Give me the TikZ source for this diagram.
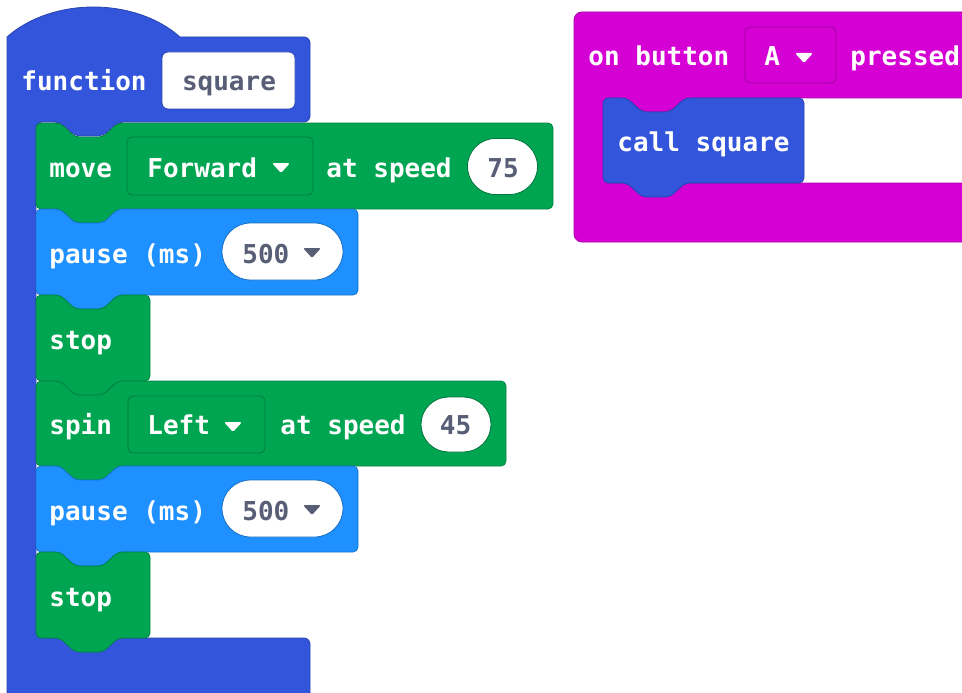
\documentclass[tikz,border=0pt]{standalone}
\usepackage{fontspec}
\newfontfamily\blockfont{DejaVu Sans Mono}
\usetikzlibrary{shapes.misc}

\definecolor{fnblue}{RGB}{51,85,219}
\definecolor{pauseblue}{RGB}{30,144,255}
\definecolor{motorgreen}{RGB}{0,165,82}
\definecolor{eventpink}{RGB}{212,0,212}
\definecolor{valuegray}{RGB}{87,94,117}

% statement block with notch on top and tab below
\newcommand{\stackblock}[5]{%
    \filldraw[#1] (#2,#3) -- ({#2+24},#3) -- ({#2+39},{#3+14}) -- ({#2+67},{#3+14})
        -- ({#2+82},#3) -- (#4,#3) -- (#4,#5) -- ({#2+82},#5) -- ({#2+67},{#5+14})
        -- ({#2+39},{#5+14}) -- ({#2+24},#5) -- (#2,#5) -- cycle;}

\begin{document}
\begin{tikzpicture}[x = 1pt, y = -1pt, line width = 0.8pt,
    every node/.style = {inner sep = 0pt, text = white,
        font = \blockfont\bfseries\fontsize{26}{30}\selectfont},
    word/.style = {anchor = base west},
    valtext/.style = {anchor = base, text = valuegray},
    greenblock/.style = {fill = motorgreen, draw = motorgreen!80!black, rounded corners = 5pt},
    pauseblock/.style = {fill = pauseblue, draw = pauseblue!80!black, rounded corners = 5pt},
    callblock/.style = {fill = fnblue, draw = fnblue!80!black, rounded corners = 5pt},
    dropdown/.style = {rectangle, rounded corners = 5pt, draw = #1!75!black, fill = #1},
    oval/.style = {rounded rectangle, fill = white, draw = #1, minimum height = 56pt},
    caret/.pic = {\fill[rounded corners = 1.5pt] (-9,-5) -- (9,-5) -- (0,5) -- cycle;}]
    \useasboundingbox (0,0) rectangle (962,693);
    \clip (0,0) rectangle (962,693);

    % function block
    \filldraw[fill = fnblue, draw = fnblue!80!black, rounded corners = 6pt]
        (7,705) [sharp corners] -- (7,37) .. controls (52,-3) and (135,-3) .. (180,37)
        [rounded corners = 6pt] -- (310,37) -- (310,122) -- (118,122) -- (103,136)
        -- (75,136) -- (60,122) -- (36,122) -- (36,638) -- (310,638) -- (310,705) -- cycle;
    \node[word] (fnlabel) at (21,91) {function};
    \node[rectangle, rounded corners = 6pt, fill = white, draw = fnblue!80!black,
        minimum width = 133pt, minimum height = 57pt] (fnfield) at (228.5,80.5) {};
    \node[valtext] (fnname) at (229,91) {square};

    % body
    \stackblock{greenblock}{36}{123}{553}{209};
    \stackblock{pauseblock}{36}{209}{358}{295};
    \stackblock{greenblock}{36}{295}{150}{381};
    \stackblock{greenblock}{36}{381}{506}{466};
    \stackblock{pauseblock}{36}{466}{358}{552};
    \stackblock{greenblock}{36}{552}{150}{638};

    % move
    \node[word] (movelabel) at (49,177) {move};
    \node[dropdown = motorgreen, minimum width = 186pt, minimum height = 58pt] (fwdfield) at (220,166) {};
    \node[word] (fwdtext) at (147,177) {Forward};
    \pic[white] at (281,168) {caret};
    \node[word] (movespeed) at (326,177) {at speed};
    \node[oval = motorgreen!70!black, minimum width = 70pt] (fwdoval) at (502.5,166.5) {};
    \node[valtext] (fwdval) at (503,177) {75};

    % pause
    \node[word] (pauseone) at (49,263) {pause (ms)};
    \node[oval = pauseblue!75!black, minimum width = 121pt, minimum height = 57pt] (delayone) at (282.5,251.5) {};
    \node[word, text = valuegray] (delayoneval) at (242,263) {500};
    \pic[valuegray] at (312,253) {caret};

    \node[word] (stopone) at (49,349) {stop};

    % spin
    \node[word] (spinlabel) at (49,434) {spin};
    \node[dropdown = motorgreen, minimum width = 137pt, minimum height = 57pt] (leftfield) at (196.5,424.5) {};
    \node[word] (lefttext) at (147,434) {Left};
    \pic[white] at (233,427) {caret};
    \node[word] (spinspeed) at (280,434) {at speed};
    \node[oval = motorgreen!70!black, minimum width = 70pt, minimum height = 55pt] (leftoval) at (456,424.5) {};
    \node[valtext] (leftval) at (455.5,434) {45};

    % pause
    \node[word] (pausetwo) at (49,520) {pause (ms)};
    \node[oval = pauseblue!75!black, minimum width = 121pt, minimum height = 57pt] (delaytwo) at (282.5,508.5) {};
    \node[word, text = valuegray] (delaytwoval) at (242,520) {500};
    \pic[valuegray] at (312,510) {caret};

    \node[word] (stoptwo) at (49,606) {stop};

    % event block
    \filldraw[fill = eventpink, draw = eventpink!80!black, rounded corners = 8pt]
        (574,12) -- (990,12) -- (990,98) -- (685,98) -- (670,112) -- (642,112)
        -- (627,98) -- (603,98) -- (603,183) -- (990,183) -- (990,242) -- (574,242) -- cycle;
    \node[word] (onlabel) at (588,66) {on button};
    \node[dropdown = eventpink, minimum width = 91pt, minimum height = 56pt] (btnfield) at (790.5,55) {};
    \node[word] (btntext) at (764,66) {A};
    \pic[white] at (804,58) {caret};
    \node[word] (pressedlabel) at (850,66) {pressed};

    \stackblock{callblock}{603}{98}{804}{183};
    \node[word] (calllabel) at (617,151) {call square};
\end{tikzpicture}
\end{document}
